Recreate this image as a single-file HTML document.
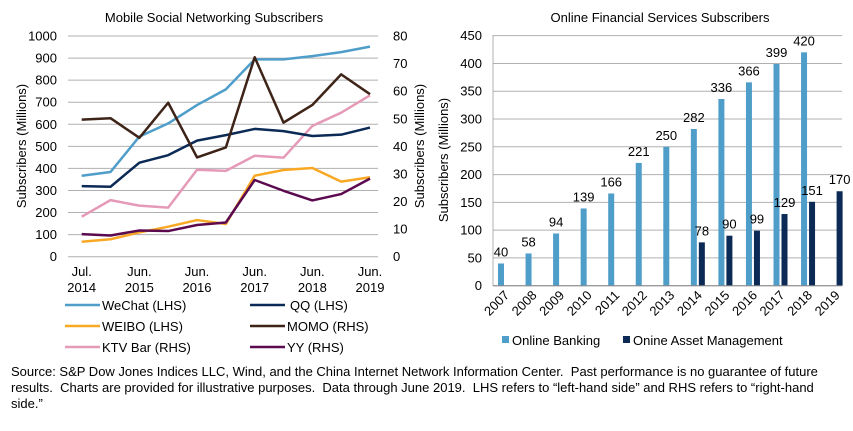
<!DOCTYPE html>
<html><head><meta charset="utf-8"><style>
body{margin:0;background:#fff;width:853px;height:426px;overflow:hidden;font-family:"Liberation Sans",Arial,sans-serif;}
svg text{font-family:"Liberation Sans",Arial,sans-serif;fill:#000;}
#src{position:absolute;left:11px;top:364px;width:835px;font-size:13px;line-height:16px;color:#000;}
</style></head><body>
<svg id="c" width="853" height="426"></svg>
<div id="src">Source: S&amp;P Dow Jones Indices LLC, Wind, and the China Internet Network Information Center.&nbsp; Past performance is no guarantee of future results.&nbsp; Charts are provided for illustrative purposes.&nbsp; Data through June 2019.&nbsp; LHS refers to “left-hand side” and RHS refers to “right-hand side.”</div>
<script>
const periods=["Jul 2014","Dec 2014","Jun 2015","Dec 2015","Jun 2016","Dec 2016","Jun 2017","Dec 2017","Jun 2018","Dec 2018","Jun 2019"];
const wechat=[367,384,544,604,687,758,894,894,909,927,952];
const qq=[320,317,426,460,526,551,579,569,547,553,585];
const weibo=[68,79,110,136,166,148,367,393,402,340,360];
const momo=[49.7,50.2,43.1,55.8,36.0,39.6,72.3,48.6,55.0,66.1,58.9];
const ktv=[14.5,20.5,18.5,17.8,31.5,31.1,36.6,35.9,47.4,52.2,58.5];
const yy=[8.2,7.7,9.5,9.3,11.5,12.4,27.8,23.9,20.4,22.7,28.3];
const lTicks=[0,100,200,300,400,500,600,700,800,900,1000];
const rTicks=[0,10,20,30,40,50,60,70,80];
const xLabels=[["Jul.","2014"],["Jun.","2015"],["Jun.","2016"],["Jun.","2017"],["Jun.","2018"],["Jun.","2019"]];
const years=["2007","2008","2009","2010","2011","2012","2013","2014","2015","2016","2017","2018","2019"];
const banking=[40,58,94,139,166,221,250,282,336,366,399,420,null];
const asset=[null,null,null,null,null,null,null,78,90,99,129,151,170];
const bTicks=[0,50,100,150,200,250,300,350,400,450];

const svg=document.getElementById('c');const NS='http://www.w3.org/2000/svg';
function el(t,a,p){const e=document.createElementNS(NS,t);for(const k in a)e.setAttribute(k,a[k]);(p||svg).appendChild(e);return e;}
function tx(x,y,s,a){const e=el('text',Object.assign({x:x,y:y},a||{}));e.textContent=s;return e;}

// Left chart
const lx=i=>81.7+i*28.83, ly=v=>256.7-v*0.2207, ry=v=>256.7-v*2.7588;
let t=tx(214,22,"Mobile Social Networking Subscribers",{'text-anchor':'middle','font-size':13});

lTicks.forEach(v=>{let g=el('line',{x1:68,x2:378,y1:ly(v),y2:ly(v),stroke:'#b0b0b0','stroke-width':1});
 let l=tx(57,ly(v)+4.5,String(v),{'text-anchor':'end','font-size':13});});
rTicks.forEach(v=>{let l=tx(393,ry(v)+4.5,String(v),{'font-size':13});});
t=tx(0,0,"Subscribers (Millions)",{'text-anchor':'middle','font-size':13,transform:'translate(26,146) rotate(-90)'});
t=tx(0,0,"Subscribers (Millions)",{'text-anchor':'middle','font-size':13,transform:'translate(424,146) rotate(-90)'});
xLabels.forEach((p,i)=>{let l=tx(lx(i*2),276,p[0],{'text-anchor':'middle','font-size':13});
 l=tx(lx(i*2),292,p[1],{'text-anchor':'middle','font-size':13});});
const series=[[weibo,'#f9a825',ly,'line-weibo'],[yy,'#5c0a4f',ry,'line-yy'],[ktv,'#e59ab8',ry,'line-ktv-bar'],[qq,'#0b2a55',ly,'line-qq'],[wechat,'#4f9dc9',ly,'line-wechat'],[momo,'#3e2418',ry,'line-momo']];
series.forEach(s=>{const pts=s[0].map((v,i)=>lx(i)+','+s[2](v)).join(' ');let p=el('polyline',{points:pts,fill:'none',stroke:s[1],'stroke-width':2.5,'stroke-linejoin':'round'});});
const leg=[["WeChat (LHS)",'#4f9dc9',65,310],["QQ (LHS)",'#0b2a55',250,310],["WEIBO (LHS)",'#f9a825',65,331],["MOMO (RHS)",'#3e2418',250,331],["KTV Bar (RHS)",'#e59ab8',65,352],["YY (RHS)",'#5c0a4f',250,352]];
leg.forEach(l=>{let g=el('g',{});
 el('line',{x1:l[2],x2:l[2]+35,y1:l[3]-5,y2:l[3]-5,stroke:l[1],'stroke-width':2.5},g);
 let tt=el('text',{x:l[2]+(l[0].startsWith('QQ')?40:37),y:l[3],'font-size':13},g);tt.textContent=l[0];});

// Right chart
const bx=i=>498+i*27.55, by=v=>285.7-v*0.5556;
t=tx(660,22,"Online Financial Services Subscribers",{'text-anchor':'middle','font-size':13});
bTicks.forEach(v=>{let g=el('line',{x1:493,x2:842,y1:by(v),y2:by(v),stroke:'#b0b0b0','stroke-width':1});
 let l=tx(482,by(v)+4.5,String(v),{'text-anchor':'end','font-size':13});});
el('line',{x1:493,x2:493,y1:35,y2:286,stroke:'#b0b0b0','stroke-width':1});
t=tx(0,0,"Subscribers (Millions)",{'text-anchor':'middle','font-size':13,transform:'translate(448,160) rotate(-90)'});
years.forEach((y,i)=>{
 const c=bx(i)+7;
 let l=tx(0,0,y,{'text-anchor':'end','font-size':13,transform:`translate(${c+5},${296}) rotate(-45)`});
 if(banking[i]!=null){let r=el('rect',{x:bx(i),y:by(banking[i]),width:6,height:by(0)-by(banking[i]),fill:'#4f9dc9'});
  let v=tx(bx(i)+3,by(banking[i])-7,String(banking[i]),{'text-anchor':'middle','font-size':13});}
 if(asset[i]!=null){let r=el('rect',{x:bx(i)+8,y:by(asset[i]),width:6,height:by(0)-by(asset[i]),fill:'#0b2a55'});
  let v=tx(bx(i)+11,by(asset[i])-7,String(asset[i]),{'text-anchor':'middle','font-size':13});}
});
el('line',{x1:493,x2:842,y1:by(0),y2:by(0),stroke:'#888','stroke-width':1});
[["Online Banking",'#4f9dc9',502],["Onine Asset Management",'#0b2a55',623]].forEach(l=>{let g=el('g',{});
 el('rect',{x:l[2],y:336,width:7,height:7,fill:l[1]},g);let tt=el('text',{x:l[2]+10,y:345,'font-size':13},g);tt.textContent=l[0];});
</script>
</body></html>
